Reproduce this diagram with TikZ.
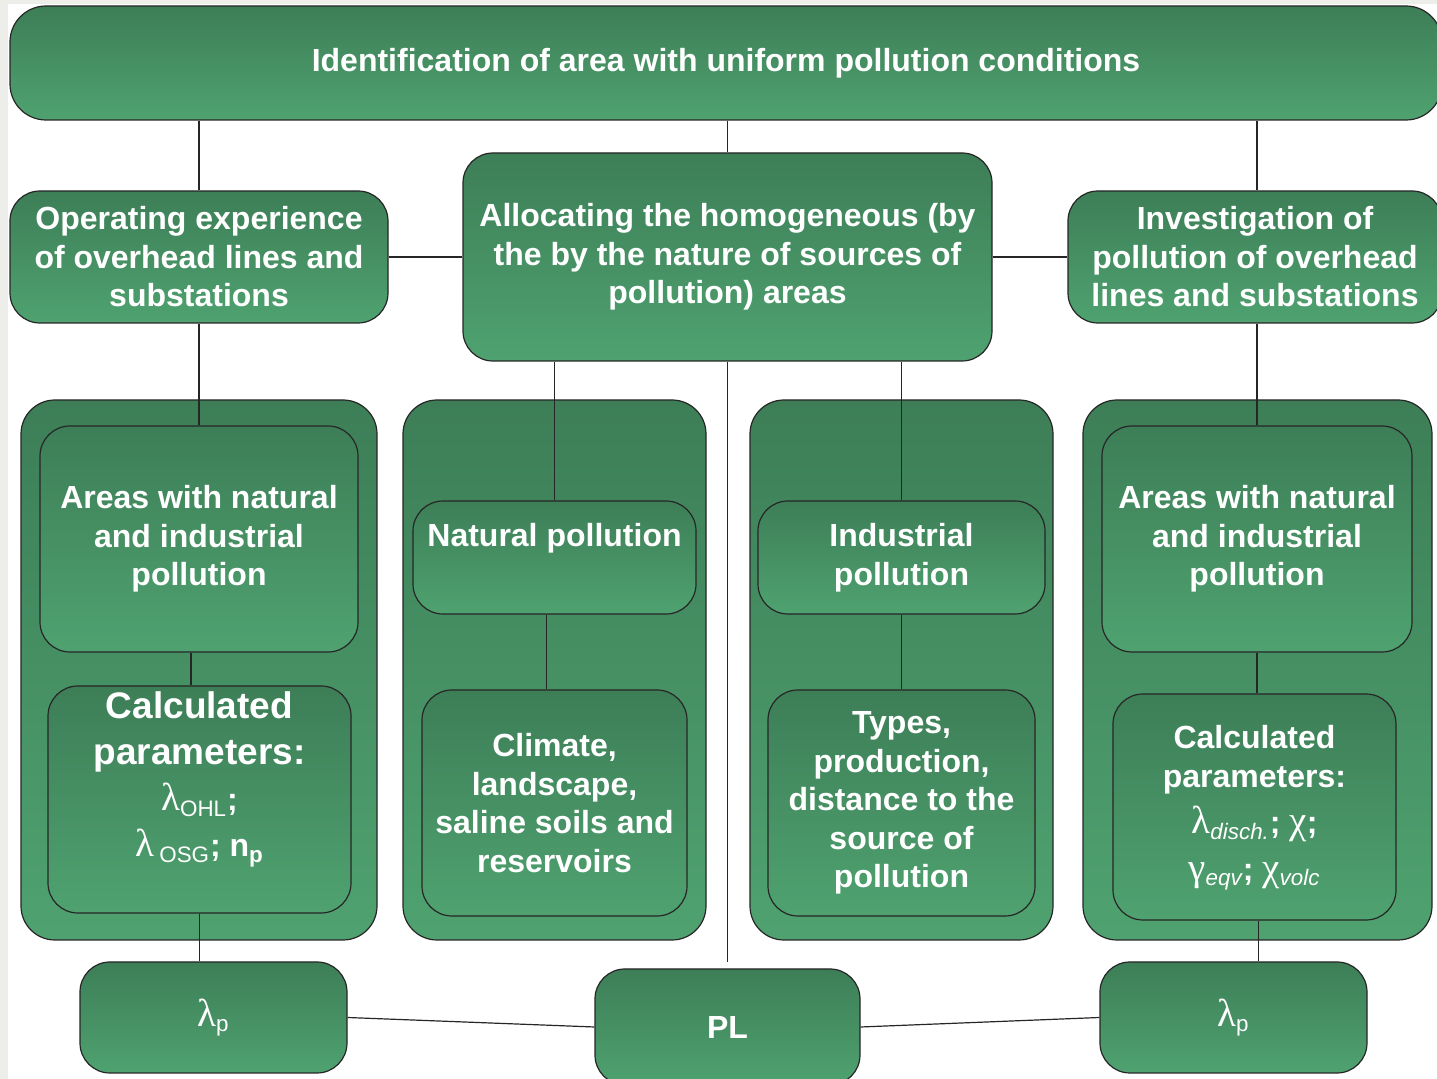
\documentclass[tikz,border=0pt]{standalone}
\usepackage{fontspec}
\setmainfont{Liberation Sans}
\newfontfamily\grk{Liberation Serif}
\usepackage{tikz}
\usetikzlibrary{positioning,calc}
\definecolor{boxtop}{RGB}{61,126,87}
\definecolor{boxbot}{RGB}{79,162,112}
\definecolor{pagegray}{RGB}{237,237,233}
\newcommand{\gl}[1]{{\mdseries\grk\fontsize{19.5}{23}\selectfont #1}}
\newcommand{\sub}[1]{{\mdseries\textsubscript{#1}}}

\begin{document}
\begin{tikzpicture}[x=0.5pt,y=-0.5pt,
    box/.style={draw=black!85, line width=0.6pt, rounded corners=15pt,
      top color=boxtop, bottom color=boxbot, text=white, align=center,
      inner sep=0pt, font=\bfseries\fontsize{16}{19.25}\selectfont},
    link/.style={draw=black!85, line width=0.6pt}]
  \useasboundingbox (0,0) rectangle (1437,1079);
  \fill[pagegray] (0,0) rectangle (1437,1079);
  \fill[white] (8,4) rectangle (1437,1079);

  \node[box, rounded corners=18pt, minimum width=716pt, minimum height=57pt] (top) at (726,63)
    {Identification of area with uniform pollution conditions};

  \node[box, minimum width=189pt, minimum height=66pt] (oper) at (199,257)
    {Operating experience\\of overhead lines and\\substations};
  \node[box, minimum width=264.5pt, minimum height=104pt] (alloc) at (727.5,257)
    {Allocating the homogeneous (by\\the by the nature of sources of\\pollution) areas};
  \node[box, minimum width=187pt, minimum height=66pt] (invest) at (1255,257)
    {Investigation of\\pollution of overhead\\lines and substations};

  \node[box, rounded corners=17pt, minimum width=178pt, minimum height=270pt] (col1) at (199,670) {};
  \node[box, rounded corners=17pt, minimum width=151.5pt, minimum height=270pt] (col2) at (554.5,670) {};
  \node[box, rounded corners=17pt, minimum width=151.5pt, minimum height=270pt] (col3) at (901.5,670) {};
  \node[box, rounded corners=17pt, minimum width=174.5pt, minimum height=270pt] (col4) at (1257.5,670) {};

  \node[box, minimum width=159pt, minimum height=113pt] (areas1) at (199,539)
    {Areas with natural\\and industrial\\pollution};
  \node[box, minimum width=151.5pt, minimum height=113.5pt, text depth=25pt,
    font=\bfseries\fontsize{16}{23}\selectfont] (calc1) at (199.5,799.5)
    {{\fontsize{18.5}{22.5}\selectfont Calculated}\\
     {\fontsize{18.5}{22.5}\selectfont parameters:}\\
     \gl{λ}\sub{OHL};\\
     \gl{λ}\,\sub{OSG}; n\textsubscript{p}};
  \node[box, minimum width=141.5pt, minimum height=56.5pt, text depth=23pt] (nat) at (554.5,557.5)
    {Natural pollution};
  \node[box, minimum width=132.5pt, minimum height=113pt] (climate) at (554.5,803)
    {Climate,\\landscape,\\saline soils and\\reservoirs};
  \node[box, minimum width=143.5pt, minimum height=56.5pt] (ind) at (901.5,557.5)
    {Industrial\\pollution};
  \node[box, minimum width=133.5pt, minimum height=113pt] (types) at (901.5,803)
    {Types,\\production,\\distance to the\\source of\\pollution};
  \node[box, minimum width=155pt, minimum height=113pt] (areas4) at (1257,539)
    {Areas with natural\\and industrial\\pollution};
  \node[box, minimum width=141.5pt, minimum height=113pt, text depth=4pt] (calc4) at (1254.5,807)
    {Calculated\\parameters:\\[4pt]
     \gl{λ}\sub{\itshape disch.}; \gl{χ};\\[4pt]
     \gl{γ}\sub{\itshape eqv}; \gl{χ}\sub{\itshape volc}};

  \node[box, minimum width=133.5pt, minimum height=55.5pt] (lamL) at (213.5,1017.5)
    {\gl{λ}\sub{p}};
  \node[box, minimum width=132.5pt, minimum height=58pt] (pl) at (727.5,1027) {PL};
  \node[box, minimum width=133.5pt, minimum height=55.5pt] (lamR) at (1233.5,1017.5)
    {\gl{λ}\sub{p}};

  \draw[link] (oper.north) -- (oper.north |- top.south);
  \draw[link] (alloc.north) -- (alloc.north |- top.south);
  \draw[link] ([xshift=1pt]invest.north) -- ([xshift=1pt]invest.north |- top.south);
  \draw[link] (oper) -- (alloc);
  \draw[link] (alloc) -- (invest);
  \draw[link] (oper.south) -- (areas1.north);
  \draw[link] (nat.north) -- (nat.north |- alloc.south);
  \draw[link] (ind.north) -- (ind.north |- alloc.south);
  \draw[link] ([xshift=1pt]invest.south) -- ([xshift=1pt]invest.south |- areas4.north);
  \draw[link, shorten >=3pt] (alloc.south) -- (pl.north);
  \draw[link] ([xshift=-4pt]areas1.south) -- ([xshift=-4pt]areas1.south |- calc1.north);
  \draw[link] ([xshift=-4pt]nat.south) -- ([xshift=-4pt]nat.south |- climate.north);
  \draw[link] (ind.south) -- (types.north);
  \draw[link] (areas4.south) -- (areas4.south |- calc4.north);
  \draw[link] (calc1.south) -- (calc1.south |- lamL.north);
  \draw[link] ([xshift=2pt]calc4.south) -- ([xshift=2pt]calc4.south |- lamR.north);
  \draw[link] (lamL.east) -- (pl.west);
  \draw[link] (pl.east) -- (lamR.west);
\end{tikzpicture}
\end{document}
